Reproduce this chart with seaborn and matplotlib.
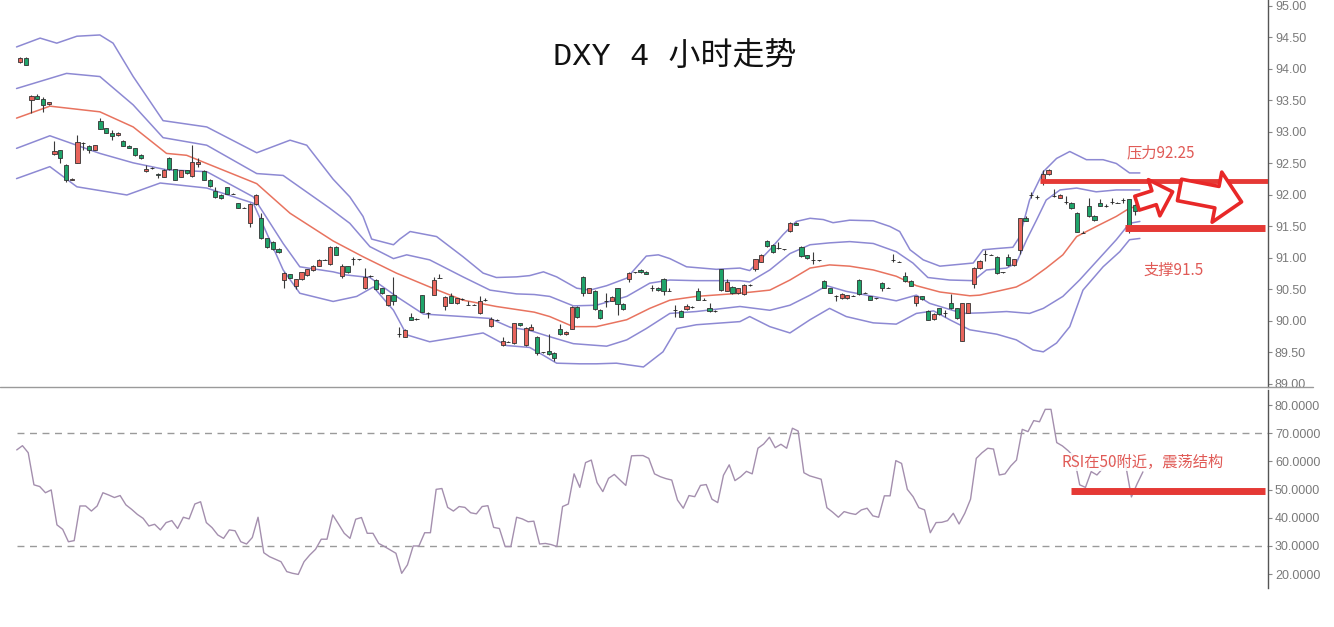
import numpy as np
import pandas as pd
import matplotlib
matplotlib.use("Agg")
import matplotlib.pyplot as plt
import seaborn as sns
from matplotlib.lines import Line2D

# ---------------- data ----------------
open_ = [
    94.11, 94.18, 93.51, 93.57, 93.52, 93.44, 92.65, 92.71, 92.48, 92.24,
    92.51, 92.83, 92.77, 92.72, 93.18, 93.06, 92.98, 92.95, 92.86, 92.78,
    92.74, 92.64, 92.38, 92.43, 92.34, 92.29, 92.59, 92.41, 92.29, 92.39,
    92.30, 92.49, 92.38, 92.24, 92.06, 92.00, 92.12, 92.02, 91.87, 91.80,
    91.56, 91.85, 91.63, 91.31, 91.26, 91.15, 90.65, 90.74, 90.55, 90.66,
    90.73, 90.81, 90.88, 90.97, 90.90, 91.18, 90.71, 90.87, 90.98, 90.98,
    90.52, 90.71, 90.65, 90.52, 90.25, 90.41, 89.80, 89.75, 90.07, 90.03,
    90.41, 90.13, 90.42, 90.69, 90.24, 90.39, 90.28, 90.35, 90.26, 90.26,
    90.12, 90.33, 89.92, 90.02, 89.62, 89.67, 89.65, 89.96, 89.62, 89.86,
    89.75, 89.50, 89.53, 89.49, 89.88, 89.79, 89.88, 90.22, 90.70, 90.45,
    90.48, 90.18, 90.32, 90.32, 90.52, 90.27, 90.66, 90.77, 90.81, 90.78,
    90.52, 90.53, 90.67, 90.48, 90.18, 90.16, 90.19, 90.22, 90.48, 90.34,
    90.21, 90.16, 90.82, 90.48, 90.54, 90.44, 90.43, 90.57, 90.82, 90.94,
    91.27, 91.21, 91.16, 91.14, 91.43, 91.56, 91.18, 91.04, 90.97, 90.96,
    90.64, 90.52, 90.39, 90.36, 90.36, 90.40, 90.65, 90.45, 90.39, 90.36,
    90.61, 90.53, 90.97, 90.94, 90.71, 90.64, 90.29, 90.39, 90.16, 90.03,
    90.20, 90.13, 90.29, 90.20, 89.69, 90.13, 90.59, 90.84, 91.06, 91.05,
    91.02, 90.77, 91.01, 90.89, 91.13, 91.64, 92.00, 91.97, 92.20, 92.33,
    91.98, 91.96, 91.89, 91.88, 91.72, 91.40, 91.82, 91.67, 91.87, 91.82,
    91.89, 91.88, 91.92, 91.93, 91.84]
high_ = [
    94.19, 94.19, 93.59, 93.60, 93.56, 93.48, 92.85, 92.72, 92.49, 92.27,
    92.96, 92.84, 92.80, 92.80, 93.22, 93.07, 93.03, 93.00, 92.88, 92.79,
    92.75, 92.65, 92.48, 92.44, 92.35, 92.41, 92.60, 92.42, 92.40, 92.40,
    92.79, 92.58, 92.39, 92.25, 92.13, 92.01, 92.13, 92.03, 91.88, 91.81,
    91.87, 92.01, 91.72, 91.32, 91.27, 91.16, 90.77, 90.75, 90.67, 90.78,
    90.83, 90.89, 90.98, 90.98, 91.19, 91.19, 90.91, 90.88, 91.02, 90.99,
    90.84, 90.73, 90.66, 90.53, 90.42, 90.70, 89.90, 89.87, 90.13, 90.04,
    90.42, 90.14, 90.70, 90.74, 90.39, 90.44, 90.37, 90.36, 90.32, 90.27,
    90.39, 90.37, 90.07, 90.03, 89.74, 89.68, 89.97, 89.97, 89.90, 89.95,
    89.76, 89.51, 89.79, 89.50, 89.95, 89.84, 90.23, 90.23, 90.71, 90.53,
    90.49, 90.19, 90.44, 90.39, 90.53, 90.28, 90.77, 90.78, 90.82, 90.79,
    90.57, 90.54, 90.68, 90.52, 90.26, 90.17, 90.27, 90.24, 90.52, 90.37,
    90.29, 90.17, 90.83, 90.67, 90.55, 90.53, 90.58, 90.58, 90.99, 91.06,
    91.28, 91.22, 91.26, 91.15, 91.57, 91.57, 91.19, 91.05, 91.09, 90.97,
    90.65, 90.53, 90.41, 90.44, 90.42, 90.41, 90.66, 90.46, 90.40, 90.37,
    90.62, 90.54, 91.06, 90.95, 90.78, 90.65, 90.40, 90.40, 90.17, 90.12,
    90.21, 90.17, 90.43, 90.21, 90.29, 90.29, 90.85, 90.96, 91.13, 91.06,
    91.03, 90.78, 91.06, 90.99, 91.64, 91.67, 92.05, 92.00, 92.40, 92.41,
    92.10, 92.01, 91.99, 91.89, 91.73, 91.43, 91.95, 91.68, 91.93, 91.85,
    91.96, 91.89, 91.95, 91.94, 91.85]
low_ = [
    94.09, 94.06, 93.30, 93.52, 93.32, 93.43, 92.63, 92.50, 92.21, 92.23,
    92.50, 92.71, 92.66, 92.71, 93.04, 92.98, 92.88, 92.94, 92.77, 92.74,
    92.62, 92.57, 92.37, 92.42, 92.27, 92.28, 92.40, 92.23, 92.28, 92.34,
    92.29, 92.45, 92.23, 92.13, 91.96, 91.94, 92.01, 92.01, 91.79, 91.79,
    91.49, 91.84, 91.30, 91.16, 91.13, 91.08, 90.52, 90.68, 90.51, 90.65,
    90.72, 90.80, 90.87, 90.96, 90.89, 91.04, 90.69, 90.76, 90.89, 90.97,
    90.51, 90.70, 90.49, 90.43, 90.24, 90.25, 89.74, 89.74, 90.01, 90.02,
    90.14, 90.04, 90.41, 90.68, 90.17, 90.28, 90.27, 90.34, 90.25, 90.25,
    90.11, 90.32, 89.91, 90.01, 89.61, 89.66, 89.64, 89.92, 89.61, 89.85,
    89.46, 89.49, 89.46, 89.36, 89.78, 89.78, 89.87, 90.05, 90.40, 90.44,
    90.18, 90.03, 90.22, 90.31, 90.10, 90.18, 90.62, 90.76, 90.76, 90.74,
    90.48, 90.48, 90.42, 90.47, 90.07, 90.06, 90.18, 90.21, 90.33, 90.33,
    90.15, 90.15, 90.48, 90.47, 90.43, 90.43, 90.42, 90.56, 90.80, 90.93,
    91.18, 91.08, 91.15, 91.13, 91.42, 91.52, 91.02, 90.99, 90.91, 90.95,
    90.52, 90.44, 90.31, 90.35, 90.35, 90.39, 90.42, 90.44, 90.33, 90.35,
    90.47, 90.52, 90.93, 90.93, 90.62, 90.55, 90.24, 90.34, 90.01, 90.02,
    90.10, 90.07, 90.19, 90.03, 89.68, 90.12, 90.52, 90.83, 90.95, 91.04,
    90.75, 90.76, 90.88, 90.88, 91.07, 91.58, 91.95, 91.93, 92.16, 92.32,
    91.97, 91.95, 91.86, 91.78, 91.41, 91.39, 91.65, 91.59, 91.82, 91.81,
    91.85, 91.87, 91.88, 91.39, 91.68]
close_ = [
    94.17, 94.07, 93.57, 93.53, 93.43, 93.47, 92.70, 92.59, 92.23, 92.26,
    92.84, 92.83, 92.72, 92.79, 93.05, 92.99, 92.94, 92.99, 92.78, 92.75,
    92.63, 92.58, 92.42, 92.43, 92.31, 92.40, 92.41, 92.24, 92.39, 92.35,
    92.52, 92.53, 92.24, 92.14, 91.97, 91.95, 92.02, 92.02, 91.80, 91.80,
    91.86, 92.00, 91.31, 91.17, 91.14, 91.09, 90.76, 90.69, 90.66, 90.77,
    90.82, 90.88, 90.97, 90.97, 91.18, 91.05, 90.87, 90.77, 90.98, 90.98,
    90.70, 90.71, 90.50, 90.44, 90.41, 90.31, 89.80, 89.86, 90.02, 90.03,
    90.15, 90.13, 90.65, 90.69, 90.38, 90.29, 90.36, 90.35, 90.26, 90.26,
    90.32, 90.33, 90.03, 90.02, 89.69, 89.67, 89.96, 89.93, 89.89, 89.90,
    89.49, 89.50, 89.47, 89.41, 89.79, 89.83, 90.22, 90.06, 90.44, 90.52,
    90.19, 90.04, 90.32, 90.38, 90.27, 90.19, 90.76, 90.77, 90.77, 90.75,
    90.52, 90.49, 90.47, 90.48, 90.18, 90.07, 90.24, 90.22, 90.34, 90.34,
    90.16, 90.16, 90.49, 90.62, 90.44, 90.52, 90.57, 90.57, 90.98, 91.05,
    91.19, 91.09, 91.16, 91.14, 91.56, 91.53, 91.03, 91.00, 90.97, 90.96,
    90.53, 90.45, 90.39, 90.43, 90.41, 90.40, 90.43, 90.45, 90.34, 90.36,
    90.52, 90.53, 90.97, 90.94, 90.64, 90.56, 90.39, 90.35, 90.02, 90.11,
    90.11, 90.13, 90.20, 90.04, 90.28, 90.28, 90.84, 90.95, 91.06, 91.05,
    90.76, 90.77, 90.89, 90.98, 91.63, 91.59, 92.00, 91.97, 92.33, 92.40,
    91.98, 92.00, 91.89, 91.79, 91.42, 91.40, 91.66, 91.60, 91.83, 91.82,
    91.89, 91.88, 91.92, 91.47, 91.74]

# Bollinger bands, read as (bar position, value) samples
ub2_x = [-0.6, 3.5, 6.4, 9.9, 13.9, 16.2, 19.7, 24.9, 32.5, 41.2, 47.0, 49.9, 54.5, 57.4, 59.7,
         61.2, 65.0, 66.1, 67.9, 72.5, 77.1, 80.6, 82.9, 86.4, 88.7, 91.1, 93.4, 96.9, 99.2,
         102.1, 105.6, 109.0, 111.1, 113.1, 116.0, 121.2, 125.3, 127.0, 130.5, 132.8, 135.1,
         137.5, 139.8, 141.5, 144.4, 148.5, 151.4, 153.1, 154.9, 157.2, 160.1, 165.9, 167.6,
         170.0, 172.8, 174.0, 175.7, 178.1, 180.4, 182.7, 185.6, 188.5, 190.8, 193.1, 194.9]
ub2_y = [94.35, 94.49, 94.41, 94.52, 94.54, 94.41, 93.88, 93.18, 93.08, 92.67, 92.87, 92.79, 92.25,
         91.97, 91.66, 91.30, 91.21, 91.30, 91.42, 91.34, 91.02, 90.76, 90.69, 90.70, 90.72,
         90.78, 90.70, 90.52, 90.49, 90.56, 90.68, 91.03, 91.05, 90.99, 90.86, 90.82, 90.84,
         90.80, 91.13, 91.37, 91.58, 91.63, 91.61, 91.56, 91.60, 91.59, 91.50, 91.42, 91.13,
         90.97, 90.87, 90.92, 91.13, 91.15, 91.17, 91.34, 91.92, 92.37, 92.58, 92.69, 92.56,
         92.56, 92.50, 92.35, 92.35]
ub1_x = [-0.6, 8.1, 13.9, 19.7, 24.9, 32.5, 41.2, 45.8, 53.9, 57.4, 60.9, 65.0, 67.3, 71.3, 77.1,
         81.8, 86.4, 89.5, 92.2, 96.3, 100.3, 105.6, 109.6, 113.1, 117.7, 125.3, 127.0, 130.5,
         134.0, 137.5, 140.9, 144.4, 148.5, 152.5, 155.4, 158.0, 161.8, 165.9, 168.2, 171.7,
         173.4, 175.2, 176.9, 178.6, 181.0, 183.9, 187.3, 190.8, 194.9]
ub1_y = [93.69, 93.93, 93.88, 93.43, 92.91, 92.79, 92.34, 92.31, 91.79, 91.55, 91.18, 90.99, 91.05,
         90.97, 90.70, 90.49, 90.43, 90.42, 90.39, 90.24, 90.25, 90.39, 90.60, 90.65, 90.64,
         90.64, 90.62, 90.81, 91.07, 91.21, 91.24, 91.26, 91.23, 91.10, 90.92, 90.69, 90.65,
         90.64, 90.81, 90.84, 90.92, 91.29, 91.60, 91.92, 92.08, 92.11, 92.05, 92.08, 92.08]
mb_x = [-0.6, 5.2, 13.9, 19.7, 25.5, 29.0, 32.5, 41.2, 47.0, 54.5, 59.7, 65.5, 71.3, 77.1, 82.9,
        89.5, 92.2, 96.3, 100.3, 105.6, 109.6, 113.1, 117.7, 125.3, 130.5, 134.0, 137.5, 140.9,
        144.4, 148.5, 152.5, 156.0, 160.1, 165.3, 167.0, 170.0, 173.4, 175.7, 178.6, 181.5,
        183.9, 187.3, 190.8, 193.1, 194.9]
mb_y = [93.22, 93.41, 93.32, 93.08, 92.66, 92.63, 92.50, 92.18, 91.71, 91.27, 91.02, 90.76, 90.54,
        90.33, 90.23, 90.14, 90.07, 89.91, 89.91, 90.02, 90.20, 90.33, 90.39, 90.44, 90.49,
        90.65, 90.84, 90.89, 90.87, 90.81, 90.71, 90.56, 90.46, 90.40, 90.41, 90.47, 90.54,
        90.65, 90.84, 91.05, 91.34, 91.50, 91.66, 91.79, 91.83]
lb1_x = [-0.6, 5.2, 13.9, 19.7, 25.5, 32.5, 40.6, 45.8, 48.7, 54.5, 56.8, 60.9, 65.5, 70.2, 77.1,
         81.8, 85.3, 88.7, 92.2, 96.3, 102.1, 105.6, 109.0, 113.1, 117.7, 125.3, 130.5, 134.0,
         137.5, 140.4, 143.8, 148.5, 152.5, 156.0, 158.3, 164.1, 167.6, 171.7, 175.7, 178.1,
         181.5, 184.4, 187.3, 190.8, 193.1, 194.9]
lb1_y = [92.74, 92.94, 92.66, 92.51, 92.40, 92.37, 91.97, 91.23, 90.86, 90.78, 90.73, 90.69, 90.39,
         90.11, 90.07, 90.04, 89.90, 89.85, 89.75, 89.64, 89.60, 89.70, 89.88, 90.12, 90.15,
         90.23, 90.17, 90.25, 90.41, 90.56, 90.47, 90.39, 90.32, 90.41, 90.28, 90.12, 90.13,
         90.15, 90.12, 90.20, 90.39, 90.65, 90.94, 91.29, 91.55, 91.58]
lb2_x = [-0.6, 5.2, 9.9, 18.6, 24.4, 32.5, 40.6, 45.8, 48.7, 54.5, 58.6, 61.5, 65.0, 67.3, 71.3,
         80.6, 84.7, 88.7, 91.0, 93.4, 97.4, 100.3, 103.8, 108.5, 111.9, 114.3, 117.7, 125.3,
         127.0, 130.5, 134.0, 137.5, 140.9, 143.8, 148.5, 152.5, 156.0, 159.0, 161.8, 165.3,
         170.0, 173.4, 176.3, 178.1, 180.4, 182.7, 185.0, 188.5, 191.4, 193.1, 194.9]
lb2_y = [92.26, 92.45, 92.13, 92.00, 92.19, 92.11, 91.87, 90.81, 90.44, 90.31, 90.39, 90.54, 90.17,
         89.78, 89.67, 89.81, 89.61, 89.58, 89.46, 89.33, 89.32, 89.32, 89.33, 89.27, 89.51,
         89.88, 89.94, 89.99, 90.07, 89.91, 89.81, 90.02, 90.20, 90.07, 89.97, 89.95, 90.12,
         90.16, 90.02, 89.86, 89.79, 89.70, 89.54, 89.51, 89.65, 89.91, 90.49, 90.86, 91.10,
         91.29, 91.31]

rsi = [
    64.1, 65.6, 63.1, 51.7, 51.1, 48.9, 49.9, 37.5, 35.9, 31.5,
    31.9, 44.2, 44.2, 42.4, 44.2, 48.9, 48.1, 47.2, 47.9, 44.6,
    43.0, 41.2, 39.8, 37.1, 37.7, 35.7, 38.3, 39.0, 36.2, 40.2,
    39.6, 44.9, 45.7, 38.3, 36.5, 33.9, 32.7, 35.7, 35.4, 31.5,
    30.7, 33.0, 40.2, 27.6, 26.2, 25.3, 24.4, 20.9, 20.3, 19.9,
    24.4, 26.8, 28.8, 32.4, 32.4, 41.0, 37.8, 34.5, 32.7, 39.5,
    40.1, 34.5, 34.5, 30.9, 29.8, 28.6,
    27.4, 20.3, 23.3, 30.0, 30.0, 34.7, 34.7, 50.1, 50.4, 43.7,
    42.4, 44.0, 43.7, 41.8, 41.4, 44.0, 44.3, 36.6, 36.2, 29.8,
    29.8, 40.2, 39.6, 38.6, 38.8, 30.7, 30.9, 30.5, 29.8, 44.0,
    44.9, 55.6, 50.8, 59.6, 60.5, 52.5, 49.3, 54.0, 55.4, 53.4,
    51.5, 62.0, 62.1, 62.1, 61.1, 55.6, 54.6, 53.9, 53.4, 46.3,
    43.4, 47.9, 47.5, 51.5, 51.8, 46.6, 45.4, 55.1, 58.8, 53.2,
    54.6, 56.5, 55.6, 64.7, 66.2, 68.6,
    64.9, 66.1, 64.7, 71.8, 70.8, 56.0, 54.9, 54.3, 53.7, 43.6,
    42.0, 40.2, 42.2, 41.6, 41.2, 42.8, 43.4, 40.7, 40.2, 47.8,
    47.8, 60.3, 59.3, 50.1, 47.5, 43.6, 42.8, 34.7, 38.3, 38.4,
    39.0, 41.6, 37.8, 41.6, 46.6, 61.1, 63.1, 64.7, 64.4, 55.2,
    55.6, 58.4, 60.5, 71.4, 70.6, 74.5, 74.1, 78.5, 78.5, 66.7,
    65.5, 63.8, 61.7,
    51.7, 50.8, 56.4, 55.2, 57.5, 59.0, 60.0, 60.0, 58.7, 47.4, 52.1, 56.3]
RSI_OFFSET = -0.57

price_ticks = [89.0, 89.5, 90.0, 90.5, 91.0, 91.5, 92.0, 92.5, 93.0, 93.5, 94.0, 94.5, 95.0]
rsi_ticks = [20, 30, 40, 50, 60, 70, 80]
rsi_levels = [70, 30]

title = "DXY 4 小时走势"
resistance_label = "压力92.25"
support_label = "支撑91.5"
rsi_label = "RSI在50附近，震荡结构"
resistance_level = 92.22
support_level = 91.48
rsi_mark_level = 49.5

# ---------------- style ----------------
sns.set_style("white")
plt.rcParams["font.family"] = ["Liberation Sans", "Noto Sans CJK SC", "DejaVu Sans"]

W, H = 1334, 627
fig = plt.figure(figsize=(W / 100, H / 100), dpi=100)
right = 1268 / W
ax = fig.add_axes([0, 1 - 387 / H, right, 387 / H])
ax2 = fig.add_axes([0, 1 - 588 / H, right, (588 - 390) / H])

XMIN, XMAX = -3.48, 217.2
ax.set_xlim(XMIN, XMAX)
ax.set_ylim(88.952, 95.095)
ax2.set_xlim(XMIN, XMAX)
ax2.set_ylim(15.08, 85.37)

RED = "#e8645c"
GREEN = "#1fa46a"
BAND = "#8d89d3"
MID = "#e8735f"
ANN = "#e05a56"
LINE_RED = "#e53935"
ARROW_RED = "#e82828"

# ---------------- candles ----------------
o = np.array(open_); c = np.array(close_); h = np.array(high_); l = np.array(low_)
idx = np.arange(len(o))
ax.vlines(idx, l, h, color="#3a3a3a", lw=0.8, zorder=3)
face = np.where(c > o, RED, np.where(c < o, GREEN, "#333333"))
edge = np.where(c == o, "#222222", "#333333")
ax.bar(idx, np.abs(c - o), bottom=np.minimum(o, c), width=0.72, color=face,
       edgecolor=edge, linewidth=0.6, zorder=4)

# ---------------- bands ----------------
for bx, by, col in [(ub2_x, ub2_y, BAND), (ub1_x, ub1_y, BAND), (mb_x, mb_y, MID),
                    (lb1_x, lb1_y, BAND), (lb2_x, lb2_y, BAND)]:
    sns.lineplot(x=bx, y=by, ax=ax, color=col, lw=1.1, estimator=None, sort=False, zorder=2)

# ---------------- RSI ----------------
rsi_df = pd.DataFrame({"x": np.arange(len(rsi)) + RSI_OFFSET, "rsi": rsi})
sns.lineplot(data=rsi_df, x="x", y="rsi", ax=ax2, color="#a48fae", lw=1.0,
             estimator=None, sort=False, zorder=3)
for lv in rsi_levels:
    ax2.hlines(lv, RSI_OFFSET, XMAX, color="#9a9a9a", lw=1.0, linestyles=(0, (5, 4)), zorder=1)

# ---------------- annotations ----------------
ax.hlines(resistance_level, 177.5, XMAX, color=LINE_RED, lw=3.5, zorder=6)
ax.hlines(support_level, 192.3, 216.6, color=LINE_RED, lw=5, zorder=6)
ax2.hlines(rsi_mark_level, 183.0, 216.6, color=LINE_RED, lw=5, zorder=6)

ax.text(0.532, 0.853, title, transform=ax.transAxes, ha="center", va="center",
        fontsize=23, family=["Liberation Mono", "Noto Sans CJK SC"], color="#111111")
ax.text(198.5, 92.67, resistance_label, ha="center", va="center", fontsize=11,
        color=ANN, family=["Noto Sans CJK SC"])
ax.text(200.8, 90.81, support_label, ha="center", va="center", fontsize=11,
        color=ANN, family=["Noto Sans CJK SC"])
ax2.text(195.4, 59.8, rsi_label, ha="center", va="center", fontsize=11,
         color=ANN, family=["Noto Sans CJK SC", "DejaVu Sans"], zorder=7,
         bbox=dict(boxstyle="square,pad=0.05", fc="white", ec="none", alpha=0.85))

ax.annotate("", xy=(200.6, 92.05), xytext=(194.4, 91.87),
            arrowprops=dict(arrowstyle="simple,head_length=1.0,head_width=1.95,tail_width=0.75",
                            fc="white", ec=ARROW_RED, lw=2.6, mutation_scale=14,
                            shrinkA=0, shrinkB=0), zorder=8)
ax.annotate("", xy=(212.6, 91.89), xytext=(201.8, 92.08),
            arrowprops=dict(arrowstyle="simple,head_length=0.86,head_width=1.75,tail_width=0.75",
                            fc="white", ec=ARROW_RED, lw=2.6, mutation_scale=21,
                            shrinkA=0, shrinkB=0), zorder=8)

# ---------------- axes cosmetics ----------------
for a, ticks, fmt in [(ax, price_ticks, "{:.2f}"), (ax2, rsi_ticks, "{:.4f}")]:
    for s in ["left", "top", "bottom"]:
        a.spines[s].set_visible(False)
    a.spines["right"].set_color("#555555")
    a.spines["right"].set_linewidth(1.0)
    a.set_xticks([])
    a.yaxis.tick_right()
    a.set_yticks(ticks)
    a.set_yticklabels([fmt.format(t) for t in ticks])
    a.tick_params(axis="y", direction="out", length=3, width=0.8, color="#888888",
                  labelcolor="#7a7a7a", labelsize=9, pad=2)
    a.set_xlabel(""); a.set_ylabel("")
    a.patch.set_alpha(0)

fig.add_artist(Line2D([0, 1313 / W], [1 - 387 / H] * 2, color="#9a9a9a", lw=1.0))

fig.savefig("out.png", dpi=100, facecolor="white")
